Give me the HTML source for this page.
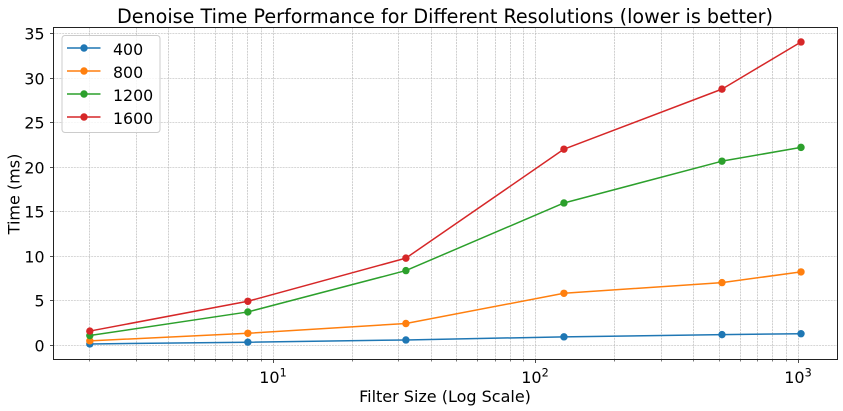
<!DOCTYPE html>
<html>
<head>
<meta charset="utf-8">
<title>Denoise Time Performance</title>
<style>
html,body{margin:0;padding:0;background:#fff;}
svg{display:block;}
text{font-family:"DejaVu Sans","Liberation Sans",sans-serif;fill:#000;}
</style>
</head>
<body>
<svg id="chart" xmlns="http://www.w3.org/2000/svg" width="843" height="411" viewBox="0 0 843 411">
<rect x="0" y="0" width="843" height="411" fill="#fff"/>
<g id="grid"></g>
<g id="series"></g>
<rect x="53.5" y="27.5" width="784" height="332" fill="none" stroke="#222" stroke-width="1"/>
<g id="ticks"></g>
<text x="445" y="23" font-size="19.17" text-anchor="middle">Denoise Time Performance for Different Resolutions (lower is better)</text>
<text x="445" y="402" font-size="16" text-anchor="middle">Filter Size (Log Scale)</text>
<text x="0" y="0" font-size="16" text-anchor="middle" transform="translate(19.5 194) rotate(-90)">Time (ms)</text>
<g id="legend">
<rect x="62" y="35.5" width="98" height="97" rx="3" fill="#fff" fill-opacity="0.8" stroke="#ccc" stroke-width="1"/>
</g>
</svg>
<script>
const filterSizes = [2, 8, 32, 128, 512, 1024];
const seriesNames = ['400', '800', '1200', '1600'];
const seriesColors = ['#1f77b4', '#ff7f0e', '#2ca02c', '#d62728'];
const times400 = [0.15, 0.35, 0.6, 0.95, 1.2, 1.3];
const times800 = [0.5, 1.35, 2.45, 5.85, 7.05, 8.25];
const times1200 = [1.1, 3.75, 8.4, 16, 20.7, 22.25];
const times1600 = [1.6, 4.95, 9.8, 22.05, 28.8, 34.1];
const yTickValues = [0, 5, 10, 15, 20, 25, 30, 35];
const xMajorExponents = [1, 2, 3];
const xMinorValues = [2, 3, 4, 5, 6, 7, 8, 9, 20, 30, 40, 50, 60, 70, 80, 90, 200, 300, 400, 500, 600, 700, 800, 900];

const allSeries = [times400, times800, times1200, times1600];
const NS = 'http://www.w3.org/2000/svg';

function xScale(v) {
  return 273.3 + (Math.log10(v) - 1) * 262.5;
}
function yScale(v) {
  return 345.3 - v * 8.895;
}
function make(tag, parent, attrs) {
  const el = document.createElementNS(NS, tag);
  for (const k in attrs) el.setAttribute(k, attrs[k]);
  parent.appendChild(el);
  return el;
}
function snap(p) {
  return Math.round(p - 0.5) + 0.5;
}

const gridG = document.getElementById('grid');
const ticksG = document.getElementById('ticks');
const seriesG = document.getElementById('series');
const legendG = document.getElementById('legend');
const gridStyle = { stroke: '#b0b0b0', 'stroke-width': 0.6, 'stroke-dasharray': '2 0.9', fill: 'none' };

yTickValues.forEach(function (v) {
  const y = snap(yScale(v));
  const g = make('line', gridG, Object.assign({ x1: 53.5, x2: 837.5, y1: y, y2: y }, gridStyle));
  
  
  const t = make('line', ticksG, { x1: 50, x2: 53.5, y1: y, y2: y, stroke: '#222', 'stroke-width': 0.8 });
  
  
  const label = make('text', ticksG, { x: 44.5, y: y + 5.8, 'font-size': 15.8, 'text-anchor': 'end' });
  label.textContent = String(v);
  
  
});

xMinorValues.forEach(function (v) {
  const x = snap(xScale(v));
  const g = make('line', gridG, Object.assign({ x1: x, x2: x, y1: 27.5, y2: 359.5 }, gridStyle));
  
  
  const t = make('line', ticksG, { x1: x, x2: x, y1: 359.5, y2: 361.5, stroke: '#222', 'stroke-width': 0.6 });
  
  
});

xMajorExponents.forEach(function (e) {
  const x = snap(xScale(Math.pow(10, e)));
  const g = make('line', gridG, Object.assign({ x1: x, x2: x, y1: 27.5, y2: 359.5 }, gridStyle));
  
  
  const t = make('line', ticksG, { x1: x, x2: x, y1: 359.5, y2: 363, stroke: '#222', 'stroke-width': 0.8 });
  
  
  const label = make('text', ticksG, { x: x - 0.5, y: 383, 'font-size': 16, 'text-anchor': 'middle' });
  
  
  label.appendChild(document.createTextNode('10'));
  const sup = make('tspan', label, { dy: -6.5, 'font-size': 11.2 });
  sup.textContent = String(e);
});

allSeries.forEach(function (values, s) {
  const pts = values.map(function (v, i) {
    return xScale(filterSizes[i]).toFixed(2) + ',' + yScale(v).toFixed(2);
  }).join(' ');
  const line = make('polyline', seriesG, { points: pts, fill: 'none', stroke: seriesColors[s], 'stroke-width': 1.5, 'stroke-linejoin': 'round' });
  
  
  values.forEach(function (v, i) {
    const c = make('circle', seriesG, { cx: xScale(filterSizes[i]), cy: yScale(v), r: 3.7, fill: seriesColors[s] });
    
    
  });
  const ly = 48 + s * 23;
  const ll = make('line', legendG, { x1: 67, x2: 100.5, y1: ly, y2: ly, stroke: seriesColors[s], 'stroke-width': 1.5 });
  
  
  const lc = make('circle', legendG, { cx: 84, cy: ly, r: 3.7, fill: seriesColors[s] });
  
  
  const lt = make('text', legendG, { x: 113, y: ly + 7, 'font-size': 15.8 });
  lt.textContent = seriesNames[s];
  
  
});
</script>
</body>
</html>
